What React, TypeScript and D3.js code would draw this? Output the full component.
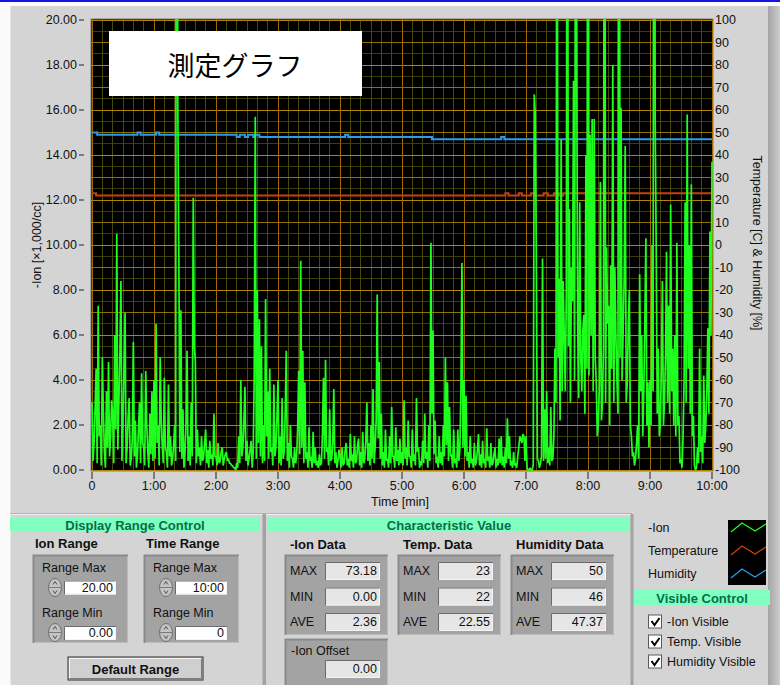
import * as d3 from 'd3'

// -Ion concentration [x1,000/cc], one reading per second from 0:00 to 10:00
const ION_STEP = 1
const ionValues = [
  3.0, 0.4, 1.2, 2.8, 4.5, 0.3, 7.3, 1.5, 2.0, 0.2, 5.0, 2.6, 0.8, 0.1, 3.5, 1.0, 4.8, 0.6, 1.5, 3.1,
  2.5, 0.3, 6.0, 1.8, 10.5, 0.9, 3.0, 5.2, 8.4, 0.4, 2.0, 4.6, 7.0, 0.3, 1.0, 2.4, 3.2, 0.2, 0.5, 1.4,
  5.7, 0.6, 2.2, 0.1, 0.6, 1.9, 3.0, 0.3, 4.3, 1.2, 1.0, 0.2, 4.4, 2.0, 0.8, 0.1, 2.5, 0.7, 3.5, 0.4,
  4.0, 0.5, 6.5, 1.2, 2.0, 0.2, 5.0, 2.2, 1.0, 0.3, 4.1, 1.0, 0.8, 0.1, 3.8, 0.6, 1.5, 0.2, 0.5, 1.1,
  2.0, 0.4, 73.18, 16.5, 9.9, 0.8, 7.1, 0.5, 2.7, 0.1, 0.8, 2.0, 5.3, 0.4, 1.5, 0.2, 3.0, 0.6, 12.1, 5.5,
  4.8, 0.3, 1.8, 0.6, 1.0, 0.2, 1.5, 0.4, 0.6, 1.2, 1.8, 0.3, 0.9, 0.1, 1.3, 0.5, 0.7, 0.2, 2.5, 0.6,
  0.6, 0.2, 1.2, 0.3, 0.4, 0.8, 1.0, 0.2, 0.5, 0.7, 0.8, 0.4, 0.5, 0.3, 0.3, 0.2, 0.2, 0.1, 0.1, 0.0,
  0.3, 0.1, 1.5, 0.3, 4.0, 0.6, 1.0, 2.1, 3.7, 0.4, 1.3, 0.2, 0.5, 0.9, 1.3, 0.1, 0.8, 4.2, 15.7, 0.5,
  8.0, 1.2, 6.7, 0.6, 5.5, 0.3, 2.0, 0.4, 7.6, 1.5, 3.5, 0.5, 4.5, 0.8, 1.0, 0.2, 3.8, 0.6, 1.0, 2.4,
  4.0, 0.3, 1.5, 0.2, 3.2, 0.5, 0.8, 2.6, 5.3, 0.4, 1.2, 0.1, 2.0, 0.6, 0.5, 0.1, 1.0, 0.3, 0.6, 1.8,
  4.4, 0.7, 9.3, 1.0, 5.3, 0.3, 3.9, 0.5, 0.8, 0.1, 1.9, 0.4, 0.6, 0.1, 1.7, 0.3, 1.0, 0.2, 0.4, 0.1,
  0.7, 0.2, 0.3, 1.6, 4.1, 0.5, 4.9, 0.8, 1.0, 0.2, 2.7, 0.4, 0.5, 1.2, 3.6, 0.3, 0.8, 0.1, 0.4, 0.9,
  0.6, 0.1, 1.0, 0.2, 0.3, 0.9, 1.2, 0.2, 0.5, 0.1, 1.6, 0.4, 0.7, 0.1, 1.5, 0.3, 0.4, 1.1, 1.4, 0.2,
  0.8, 0.1, 1.7, 0.3, 0.5, 1.3, 3.0, 0.4, 1.2, 0.2, 2.0, 0.5, 3.6, 0.3, 1.0, 2.2, 7.8, 1.4, 4.8, 0.5,
  2.5, 0.2, 0.8, 0.1, 1.8, 0.4, 0.5, 0.1, 1.5, 0.3, 2.8, 0.6, 0.6, 0.1, 1.9, 0.4, 0.9, 0.2, 1.4, 0.3,
  0.8, 0.2, 3.1, 0.5, 1.0, 0.2, 2.2, 0.6, 0.6, 0.1, 1.8, 0.4, 0.7, 0.2, 3.2, 0.8, 1.0, 0.1, 0.4, 0.2,
  1.3, 0.3, 2.5, 0.5, 0.8, 0.1, 2.0, 0.4, 10.1, 2.5, 6.2, 0.7, 2.2, 0.3, 0.6, 0.1, 1.5, 0.3, 0.8, 0.2,
  2.0, 0.6, 5.0, 1.1, 3.9, 0.4, 2.8, 0.6, 0.7, 0.1, 1.8, 0.3, 0.5, 0.1, 1.8, 0.4, 0.9, 3.5, 9.2, 1.0,
  4.0, 0.6, 3.3, 0.4, 0.8, 0.1, 1.5, 0.3, 0.5, 0.1, 1.2, 0.2, 0.4, 0.9, 1.6, 0.2, 0.7, 0.1, 1.3, 0.3,
  0.5, 0.1, 1.85, 0.4, 0.6, 0.1, 1.2, 0.2, 0.3, 0.7, 1.0, 0.1, 0.5, 0.2, 1.4, 0.3, 1.5, 0.2, 0.6, 0.1,
  1.0, 0.3, 2.3, 0.5, 1.5, 0.2, 0.4, 0.1, 0.8, 0.2, 0.3, 0.1, 0.6, 1.0, 1.5, 1.4, 1.2, 1.6, 1.5, 0.4,
  1.5, 0.1, 0.0, 0.0, 0.1, 0.0, 0.0, 0.2, 16.7, 15.8, 9.4, 0.5, 0.4, 0.1, 0.3, 0.6, 9.4, 0.4, 2.7, 0.5,
  3.5, 0.3, 1.0, 0.2, 2.8, 0.4, 0.5, 1.5, 5.4, 3.0, 35, 5.0, 8.5, 2.2, 14.7, 3.5, 8.4, 6.0, 3.5, 7.8,
  40, 5.5, 11.6, 3.0, 9.0, 7.5, 17.3, 4.0, 30, 19.0, 6.5, 3.2, 11.9, 5.0, 3.5, 6.2, 6.9, 2.5, 14.0, 4.5,
  50, 4.2, 14.9, 6.0, 15.6, 3.5, 15.6, 5.0, 3.9, 1.5, 2.0, 3.8, 12.8, 2.2, 3.0, 5.5, 45, 3.0, 9.9, 6.5,
  7.3, 2.0, 9.1, 4.5, 18.0, 3.0, 9.0, 6.0, 4.0, 2.5, 60, 5.0, 16.1, 4.0, 6.1, 8.5, 14.4, 3.0, 3.9, 6.5,
  8.0, 2.0, 1.5, 0.6, 0.8, 0.2, 0.5, 1.2, 2.0, 0.5, 8.7, 3.5, 6.0, 1.5, 3.5, 6.5, 10.3, 2.0, 3.9, 1.0,
  4.0, 2.0, 10.0, 3.5, 55, 15.6, 9.9, 2.5, 5.4, 1.5, 2.0, 4.5, 8.4, 2.0, 3.0, 5.0, 9.7, 3.0, 7.3, 2.5,
  11.8, 3.5, 5.4, 2.0, 6.0, 1.5, 10.1, 2.0, 2.4, 0.3, 0.5, 0.1, 1.5, 4.0, 11.9, 3.0, 15.8, 4.5, 10.0, 2.5,
  12.7, 1.5, 2.4, 0.2, 0.0, 0.1, 1.0, 0.3, 5.4, 0.8, 1.5, 0.3, 4.2, 1.2, 2.0, 3.5, 6.3, 2.5, 10.6, 6.0,
  13.7,
]

// temperature / humidity change points (step lines)
const tempTimes = [0, 4, 400, 403, 413, 416, 425, 428, 437, 441, 447, 452, 456, 600]
const tempValues = [23, 22, 23, 22, 23, 22, 23, 22, 23, 22, 23, 22, 23, 23]
const humidTimes = [0, 5, 44, 47, 62, 65, 140, 143, 148, 151, 156, 158, 162, 245, 248, 329, 396, 399, 600]
const humidValues = [50, 49, 50, 49, 50, 49, 48, 49, 48, 49, 48, 49, 48, 49, 48, 47, 48, 47, 47]

const timeTicks = [0, 60, 120, 180, 240, 300, 360, 420, 480, 540, 600]
const timeLabels = ['0', '1:00', '2:00', '3:00', '4:00', '5:00', '6:00', '7:00', '8:00', '9:00', '10:00']
const ionTicks = [0, 2, 4, 6, 8, 10, 12, 14, 16, 18, 20]
const rightTicks = [-100, -90, -80, -70, -60, -50, -40, -30, -20, -10, 0, 10, 20, 30, 40, 50, 60, 70, 80, 90, 100]

const statRows = ['MAX', 'MIN', 'AVE']
const ionStats = ['73.18', '0.00', '2.36']
const tempStats = ['23', '22', '22.55']
const humidStats = ['50', '46', '47.37']
const legendNames = ['-Ion', 'Temperature', 'Humidity']
const visibleLabels = ['-Ion Visible', 'Temp. Visible', 'Humidity Visible']

const ION_COLOR = '#1eff1e'
const TEMP_COLOR = '#c8400c'
const HUMID_COLOR = '#2c9ce6'
const seriesColors = [ION_COLOR, TEMP_COLOR, HUMID_COLOR]

const FONT = "'Liberation Sans', Arial, sans-serif"
const BG = '#d4d4d4'
const HEAD_FILL = '#80ffc0'
const HEAD_TEXT = '#00704a'

const x = d3.scaleLinear().domain([0, 600]).range([92, 712])
const yIon = d3.scaleLinear().domain([0, 20]).range([470, 20])
const yR = d3.scaleLinear().domain([-100, 100]).range([470, 20])

function Field({ x0, y0, w, h, text, fill = '#ffffff' }: { x0: number; y0: number; w: number; h: number; text: string; fill?: string }) {
  return (
    <g>
      <rect x={x0} y={y0} width={w} height={h} fill={fill} />
      <path d={`M${x0 + 0.5},${y0 + h}V${y0 + 0.5}H${x0 + w}`} stroke="#6a6a6a" fill="none" />
      <path d={`M${x0 + 1},${y0 + h - 0.5}H${x0 + w - 0.5}V${y0 + 1}`} stroke="#f4f4f4" fill="none" />
      <text x={x0 + w - 3} y={y0 + h / 2} textAnchor="end" dominantBaseline="central" fontSize={12.5} fill="#111">
        {text}
      </text>
    </g>
  )
}

function Spinner({ cx, cy }: { cx: number; cy: number }) {
  return (
    <g>
      <ellipse cx={cx} cy={cy} rx={6.5} ry={9} fill="#c4c4c4" stroke="#6e6e6e" />
      <line x1={cx - 6} x2={cx + 6} y1={cy} y2={cy} stroke="#7a7a7a" />
      <path d={`M${cx - 2},${cy - 3}l2,-3l2,3`} fill="none" stroke="#333" strokeWidth={0.8} />
      <path d={`M${cx - 2},${cy + 3}l2,3l2,-3`} fill="none" stroke="#333" strokeWidth={0.8} />
    </g>
  )
}

function DarkBox({ x0, y0, w, h }: { x0: number; y0: number; w: number; h: number }) {
  return (
    <g>
      <rect x={x0} y={y0} width={w} height={h} fill="#a3a3a3" />
      <path d={`M${x0 + 0.5},${y0 + h}V${y0 + 0.5}H${x0 + w}`} stroke="#8a8a8a" fill="none" strokeWidth={2} />
      <path d={`M${x0 + 1},${y0 + h - 0.5}H${x0 + w - 0.5}V${y0 + 1}`} stroke="#bcbcbc" fill="none" />
    </g>
  )
}

function Header({ x0, x1, y0, h, label }: { x0: number; x1: number; y0: number; h: number; label: string }) {
  return (
    <g>
      <rect x={x0} y={y0} width={x1 - x0} height={h} fill={HEAD_FILL} />
      <text x={(x0 + x1) / 2} y={y0 + h / 2 + 0.5} textAnchor="middle" dominantBaseline="central" fontSize={13} fontWeight="bold" fill={HEAD_TEXT}>
        {label}
      </text>
    </g>
  )
}

function StatBox({ x0, title, values }: { x0: number; title: string; values: string[] }) {
  const rowY = [562, 587.5, 613]
  return (
    <g>
      <text x={x0 + 5} y={549} fontSize={13} fontWeight="bold" fill="#111">{title}</text>
      <DarkBox x0={x0} y0={555} w={103} h={80} />
      {statRows.map((r, i) => (
        <g key={r}>
          <text x={x0 + 5} y={rowY[i] + 9} dominantBaseline="central" fontSize={12.5} fill="#111">{r}</text>
          <Field x0={x0 + 40} y0={rowY[i]} w={55} h={18} text={values[i]} fill="#e6e6e6" />
        </g>
      ))}
    </g>
  )
}

function RangeBox({ x0, title, maxText, minText }: { x0: number; title: string; maxText: string; minText: string }) {
  return (
    <g>
      <text x={x0 + 2} y={548} fontSize={13} fontWeight="bold" fill="#111">{title}</text>
      <DarkBox x0={x0} y0={555} w={95} h={88} />
      <text x={x0 + 9} y={572} fontSize={12.5} fill="#111">Range Max</text>
      <Spinner cx={x0 + 22} cy={587.5} />
      <Field x0={x0 + 31} y0={580.5} w={52} h={14} text={maxText} />
      <text x={x0 + 9} y={617} fontSize={12.5} fill="#111">Range Min</text>
      <Spinner cx={x0 + 22} cy={632.5} />
      <Field x0={x0 + 31} y0={626} w={52} h={14} text={minText} />
    </g>
  )
}

export default function App() {
  const ionLine = d3
    .line<number>()
    .x((_, i) => x(i * ION_STEP))
    .y((d) => yIon(d))
  const stepLine = d3
    .line<[number, number]>()
    .x((d) => x(d[0]))
    .y((d) => yR(d[1]))
    .curve(d3.curveStepAfter)
  const tempPts = tempTimes.map((t, i) => [t, tempValues[i]] as [number, number])
  const humidPts = humidTimes.map((t, i) => [t, humidValues[i]] as [number, number])

  const vMinor = d3.range(0, 601, 10)
  const hMinor = d3.range(0, 20.01, 0.5)

  const zig = (y0: number) => `M731,${y0 + 9}L742,${y0}L755,${y0 + 8}L766,${y0 + 1}`

  return (
    <div style={{ position: 'absolute', left: 0, top: 0, width: 780, height: 685, overflow: 'hidden' }}>
      <svg width={780} height={685} viewBox="0 0 780 685" style={{ display: 'block', fontFamily: FONT }}>
        <defs>
          <clipPath id="plot-clip">
            <rect x={91} y={19} width={622} height={452} />
          </clipPath>
          <linearGradient id="edge-grad" x1="0" x2="1" y1="0" y2="0">
            <stop offset="0%" stopColor="#a4a4a4" />
            <stop offset="100%" stopColor="#cdcdcd" />
          </linearGradient>
        </defs>

        {/* window frame */}
        <rect x={0} y={0} width={780} height={685} fill="#fafafa" />
        <rect x={0} y={0} width={780} height={2} fill="#1414e6" />
        <rect x={10} y={6} width={758} height={679} fill={BG} />
        <rect x={768} y={6} width={12} height={679} fill="url(#edge-grad)" />
        <line x1={10.5} x2={10.5} y1={6} y2={685} stroke="#e8e8e8" />

        {/* plot area */}
        <rect x={91} y={19} width={622} height={452} fill="#000" stroke="#7c7c7c" />
        <g shapeRendering="crispEdges">
          {hMinor.map((v) => (
            <line key={`hm${v}`} x1={91} x2={713} y1={yIon(v)} y2={yIon(v)} stroke="#3e3e04" />
          ))}
          {vMinor.map((t) => (
            <line key={`vm${t}`} x1={x(t)} x2={x(t)} y1={19} y2={471} stroke="#48480a" />
          ))}
          {rightTicks.map((v) => (
            <line key={`hr${v}`} x1={91} x2={713} y1={yR(v)} y2={yR(v)} stroke="#8e7200" />
          ))}
          {ionTicks.map((v) => (
            <line key={`hl${v}`} x1={91} x2={713} y1={yIon(v)} y2={yIon(v)} stroke="#b08600" />
          ))}
          {timeTicks.map((t) => (
            <line key={`vM${t}`} x1={x(t)} x2={x(t)} y1={19} y2={471} stroke="#a06a00" />
          ))}
        </g>
        <g clipPath="url(#plot-clip)" fill="none">
          <path d={stepLine(humidPts) || ''} stroke={HUMID_COLOR} strokeWidth={2} />
          <path d={stepLine(tempPts) || ''} stroke={TEMP_COLOR} strokeWidth={2} />
          <path d={ionLine(ionValues) || ''} stroke={ION_COLOR} strokeWidth={1.7} strokeLinejoin="miter" strokeMiterlimit={2} />
        </g>

        {/* title box */}
        <rect x={109} y={31} width={253} height={65} fill="#fff" />
        <text x={235} y={64} textAnchor="middle" dominantBaseline="central" fontSize={27} fill="#000" fontFamily="'Noto Sans CJK JP', sans-serif">
          測定グラフ
        </text>

        {/* left axis */}
        {ionTicks.map((v) => (
          <g key={`lt${v}`}>
            <text x={77} y={yIon(v)} textAnchor="end" dominantBaseline="central" fontSize={12.5} fill="#111">
              {v.toFixed(2)}
            </text>
            <line x1={79} x2={84} y1={yIon(v)} y2={yIon(v)} stroke="#222" />
          </g>
        ))}
        <text transform="translate(37,245) rotate(-90)" textAnchor="middle" dominantBaseline="central" fontSize={12.5} fill="#111">
          -Ion [×1,000/cc]
        </text>

        {/* right axis */}
        {rightTicks.map((v) => (
          <text key={`rt${v}`} x={715} y={yR(v)} dominantBaseline="central" fontSize={12.5} fill="#111">
            {`${v}`}
          </text>
        ))}
        <text transform="translate(757,243) rotate(90)" textAnchor="middle" dominantBaseline="central" fontSize={12.5} fill="#111">
          Temperature [C] &amp; Humidity [%]
        </text>

        {/* time axis */}
        {timeTicks.map((t, i) => (
          <g key={`xt${t}`}>
            <line x1={x(t)} x2={x(t)} y1={472} y2={479} stroke="#222" />
            <text x={x(t)} y={486} textAnchor="middle" dominantBaseline="central" fontSize={12.5} fill="#111">
              {timeLabels[i]}
            </text>
          </g>
        ))}
        <text x={400} y={502} textAnchor="middle" dominantBaseline="central" fontSize={12.5} fill="#111">
          Time [min]
        </text>

        {/* lower panels */}
        <line x1={10} x2={632} y1={513.5} y2={513.5} stroke="#b4b4b4" />
        <line x1={10} x2={632} y1={514.5} y2={514.5} stroke="#f0f0f0" />
        <rect x={262.5} y={514} width={3.5} height={171} fill="#a2a2a2" />
        <rect x={630.5} y={514} width={3} height={171} fill="#a2a2a2" />

        <Header x0={10} x1={260} y0={518} h={13} label="Display Range Control" />
        <RangeBox x0={33} title="Ion Range" maxText="20.00" minText="0.00" />
        <RangeBox x0={144} title="Time Range" maxText="10:00" minText="0" />
        <rect x={68} y={657} width={135} height={23} fill="#cfcfcf" stroke="#2e2e2e" />
        <path d="M69.5,678.5V658.5H201.5" stroke="#f4f4f4" fill="none" />
        <path d="M69.5,678.5H201.5V658.5" stroke="#7a7a7a" fill="none" />
        <text x={135.5} y={669} textAnchor="middle" dominantBaseline="central" fontSize={13} fontWeight="bold" fill="#111">
          Default Range
        </text>

        <Header x0={268} x1={630} y0={518} h={13} label="Characteristic Value" />
        <StatBox x0={285} title="-Ion Data" values={ionStats} />
        <StatBox x0={398} title="Temp. Data" values={tempStats} />
        <StatBox x0={511} title="Humidity Data" values={humidStats} />
        <DarkBox x0={285} y0={639} w={103} h={48} />
        <text x={291} y={651} dominantBaseline="central" fontSize={12.5} fill="#111">-Ion Offset</text>
        <Field x0={325} y0={660} w={55} h={18} text="0.00" fill="#e6e6e6" />

        {/* legend */}
        {legendNames.map((n, i) => (
          <text key={n} x={648} y={528 + i * 23} dominantBaseline="central" fontSize={12.5} fill="#111">
            {n}
          </text>
        ))}
        <rect x={728} y={520} width={38} height={65} fill="#000" />
        {seriesColors.map((c, i) => (
          <path key={c} d={zig(523 + i * 23)} stroke={c} strokeWidth={1.3} fill="none" />
        ))}

        <Header x0={634} x1={770} y0={590} h={15} label="Visible Control" />
        {visibleLabels.map((l, i) => {
          const cy = 622 + i * 20
          return (
            <g key={l}>
              <rect x={648.5} y={cy - 7} width={13} height={13} fill="#fff" stroke="#5a5a5a" />
              <path d={`M651.5,${cy - 1}l3,4l5,-7`} stroke="#000" strokeWidth={2} fill="none" />
              <text x={667} y={cy} dominantBaseline="central" fontSize={12.5} fill="#111">
                {l}
              </text>
            </g>
          )
        })}
      </svg>
    </div>
  )
}
